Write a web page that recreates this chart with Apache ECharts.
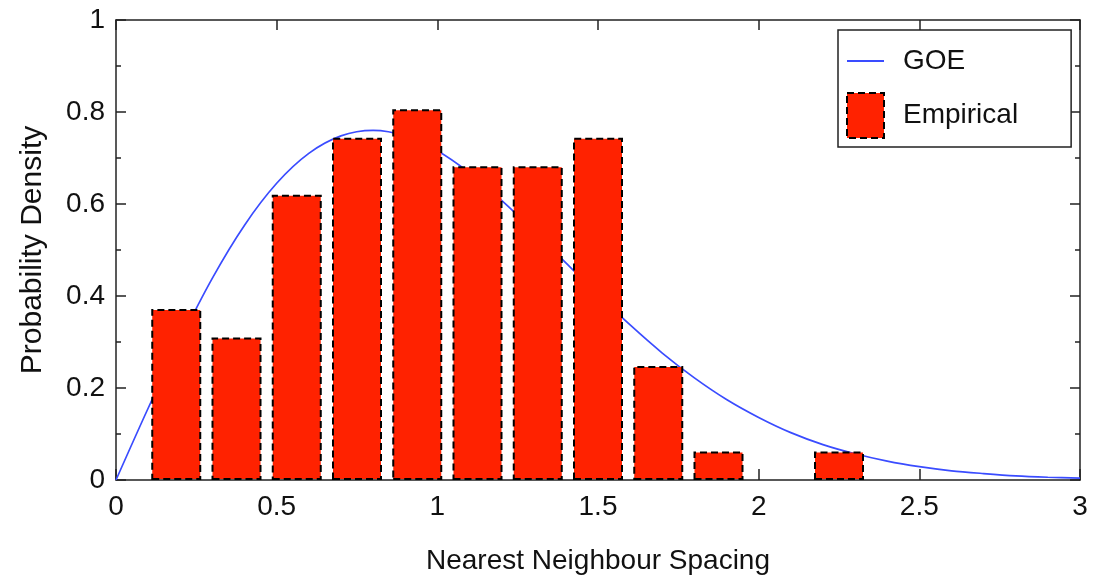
<!DOCTYPE html>
<html>
<head>
<meta charset="utf-8">
<script src="https://cdn.jsdelivr.net/npm/echarts@6/dist/echarts.min.js"></script>
<style>
  html, body { margin: 0; padding: 0; background: #ffffff; }
  #chart { width: 1098px; height: 580px; }
</style>
</head>
<body>
<div id="chart"></div>
<script>
// Histogram bin centres (spacing) and empirical density per bin
const binCenters = [0.1875, 0.375, 0.5625, 0.75, 0.9375, 1.125, 1.3125, 1.5, 1.6875, 1.875, 2.0625, 2.25];
const empiricalDensity = [0.372, 0.310, 0.620, 0.744, 0.806, 0.682, 0.682, 0.744, 0.248, 0.062, 0, 0.062];

// GOE (Wigner surmise) curve, sampled every 0.1
const goeS = [0, 0.1, 0.2, 0.3, 0.4, 0.5, 0.6, 0.7, 0.8, 0.9, 1.0, 1.1, 1.2, 1.3, 1.4, 1.5,
              1.6, 1.7, 1.8, 1.9, 2.0, 2.1, 2.2, 2.3, 2.4, 2.5, 2.6, 2.7, 2.8, 2.9, 3.0];
const goeP = [0, 0.156, 0.304, 0.439, 0.554, 0.645, 0.710, 0.748, 0.760, 0.748, 0.716,
              0.668, 0.608, 0.542, 0.472, 0.403, 0.337, 0.276, 0.222, 0.175, 0.136,
              0.103, 0.077, 0.057, 0.041, 0.029, 0.020, 0.014, 0.009, 0.006, 0.004];

const xTicks = ['0', '0.5', '1', '1.5', '2', '2.5', '3'];
const yTicks = ['0', '0.2', '0.4', '0.6', '0.8', '1'];

const FONT = '"Liberation Sans", Arial, Helvetica, sans-serif';
const AXIS_COLOR = '#222222';
const TEXT_COLOR = '#111111';
const GOE_COLOR = '#3a4cff';
const BAR_COLOR = '#ff2200';
const BAR_DASH = [7, 4];

const chart = echarts.init(document.getElementById('chart'), null, { renderer: 'canvas' });

const frameLine = { show: true, onZero: false, lineStyle: { color: AXIS_COLOR, width: 1.5 } };

const option = {
  backgroundColor: '#ffffff',
  animation: false,
  textStyle: { fontFamily: FONT, color: TEXT_COLOR },
  grid: { left: 116, right: 18, top: 20, bottom: 100, containLabel: false },
  legend: {
    left: 838,
    top: 30,
    orient: 'vertical',
    itemWidth: 37,
    itemHeight: 45,
    itemGap: 13,
    padding: [13, 53, 8, 8],
    borderColor: AXIS_COLOR,
    borderWidth: 1.5,
    borderRadius: 0,
    backgroundColor: '#ffffff',
    textStyle: { fontFamily: FONT, fontSize: 28, color: TEXT_COLOR, padding: [0, 0, 0, 14] },
    data: [
      { name: 'GOE', itemStyle: { opacity: 0 }, lineStyle: { color: GOE_COLOR, width: 2 } },
      {
        name: 'Empirical',
        icon: 'rect',
        itemStyle: { color: BAR_COLOR, borderColor: '#000000', borderWidth: 2, borderType: BAR_DASH }
      }
    ]
  },
  xAxis: [
    {
      type: 'value', min: 0, max: 3, interval: 0.5, position: 'bottom',
      name: 'Nearest Neighbour Spacing', nameLocation: 'middle', nameGap: 67,
      nameTextStyle: { fontFamily: FONT, fontSize: 28, color: TEXT_COLOR },
      axisLine: frameLine,
      axisTick: { show: true, inside: true, length: 11, lineStyle: { color: AXIS_COLOR, width: 1.5 } },
      axisLabel: {
        fontFamily: FONT, fontSize: 28, color: TEXT_COLOR, margin: 13,
        formatter: (v) => xTicks[Math.round(v / 0.5)]
      },
      splitLine: { show: false }
    },
    {
      type: 'value', min: 0, max: 3, interval: 0.5, position: 'top',
      axisLine: frameLine,
      axisTick: { show: true, inside: true, length: 10, lineStyle: { color: AXIS_COLOR, width: 1.5 } },
      axisLabel: { show: false },
      splitLine: { show: false }
    }
  ],
  yAxis: [
    {
      type: 'value', min: 0, max: 1, interval: 0.2, position: 'left',
      name: 'Probability Density', nameLocation: 'middle', nameGap: 68,
      nameTextStyle: { fontFamily: FONT, fontSize: 30, color: TEXT_COLOR },
      axisLine: frameLine,
      axisTick: { show: true, inside: true, length: 10, lineStyle: { color: AXIS_COLOR, width: 1.5 } },
      minorTick: { show: true, splitNumber: 2, length: 5, lineStyle: { color: AXIS_COLOR, width: 1.5 } },
      axisLabel: {
        fontFamily: FONT, fontSize: 28, color: TEXT_COLOR, margin: 11,
        formatter: (v) => yTicks[Math.round(v / 0.2)]
      },
      splitLine: { show: false }
    },
    {
      type: 'value', min: 0, max: 1, interval: 0.2, position: 'right',
      axisLine: frameLine,
      axisTick: { show: true, inside: true, length: 10, lineStyle: { color: AXIS_COLOR, width: 1.5 } },
      minorTick: { show: true, splitNumber: 2, length: 5, lineStyle: { color: AXIS_COLOR, width: 1.5 } },
      axisLabel: { show: false },
      splitLine: { show: false }
    }
  ],
  series: [
    {
      name: 'GOE',
      type: 'line',
      z: 1,
      xAxisIndex: 0, yAxisIndex: 0,
      data: goeS.map((s, i) => [s, goeP[i]]),
      smooth: 0.3,
      symbol: 'none',
      showSymbol: false,
      lineStyle: { color: GOE_COLOR, width: 1.7 },
      itemStyle: { color: GOE_COLOR }
    },
    {
      name: 'Empirical',
      type: 'bar',
      z: 3,
      xAxisIndex: 0, yAxisIndex: 0,
      barWidth: 50,
      data: binCenters.map((c, i) => [c, empiricalDensity[i] > 0 ? empiricalDensity[i] : '-']),
      itemStyle: {
        color: BAR_COLOR,
        borderColor: '#000000',
        borderWidth: 2,
        borderType: BAR_DASH
      }
    }
  ]
};

chart.setOption(option);
</script>
</body>
</html>
